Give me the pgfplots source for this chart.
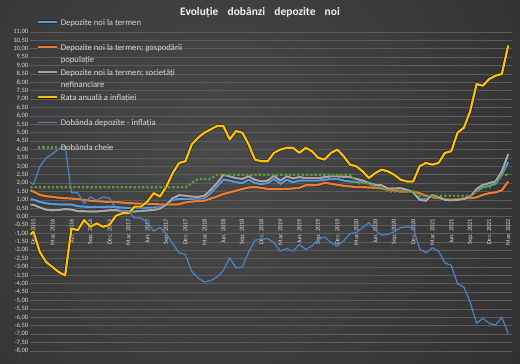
\documentclass[border=0pt]{standalone}
\usepackage{fontspec}
\setmainfont{Carlito}
\usepackage{pgfplots}
\pgfplotsset{compat=1.18}
\usepackage{pgfplotstable}
\definecolor{cblue}{HTML}{5B9BD5}
\definecolor{corange}{HTML}{ED7D31}
\definecolor{cgray}{HTML}{A5A5A5}
\definecolor{cyellow}{HTML}{FFC000}
\definecolor{cdiff}{HTML}{4A86C8}
\definecolor{cgreen}{HTML}{5E9A3A}
\definecolor{gridc}{HTML}{5C5C5C}
\definecolor{txt}{HTML}{D9D9D9}
\definecolor{bgin}{HTML}{4A4A4A}
\definecolor{bgout}{HTML}{1E1E1E}

\pgfplotstableread{
x dep hh nfc infl diff key
-0.5 1.03 1.57 0.72 -1.05 2.05 1.75
0 1.02 1.50 0.71 -0.90 1.92 1.75
1 0.88 1.30 0.55 -2.10 2.98 1.75
2 0.80 1.22 0.42 -2.70 3.50 1.75
3 0.75 1.18 0.38 -3.00 3.75 1.75
4 0.73 1.13 0.40 -3.30 4.03 1.75
5 0.72 1.10 0.45 -3.50 4.22 1.75
6 0.73 1.08 0.42 -0.70 1.43 1.75
7 0.62 1.05 0.33 -0.80 1.42 1.75
8 0.60 1.00 0.32 -0.20 0.80 1.75
9 0.58 0.95 0.31 -0.60 1.18 1.75
10 0.57 0.92 0.31 -0.40 0.97 1.75
11 0.58 0.90 0.34 -0.60 1.18 1.75
12 0.60 0.88 0.38 -0.50 1.10 1.75
13 0.57 0.87 0.38 0.05 0.52 1.75
14 0.54 0.84 0.34 0.20 0.34 1.75
15 0.52 0.80 0.31 0.20 0.32 1.75
16 0.52 0.79 0.31 0.60 -0.08 1.75
17 0.52 0.77 0.34 0.60 -0.08 1.75
18 0.53 0.76 0.37 0.90 -0.37 1.75
19 0.54 0.75 0.40 1.40 -0.86 1.75
20 0.56 0.73 0.48 1.20 -0.64 1.75
21 0.75 0.72 0.72 1.80 -1.05 1.75
22 1.00 0.72 1.10 2.60 -1.60 1.75
23 1.05 0.74 1.28 3.20 -2.15 1.75
24 1.05 0.85 1.25 3.30 -2.25 1.75
25 1.05 0.90 1.20 4.30 -3.25 2.00
26 1.05 0.93 1.18 4.70 -3.65 2.25
27 1.10 0.95 1.25 5.00 -3.90 2.25
28 1.40 1.08 1.60 5.20 -3.80 2.25
29 1.80 1.20 2.00 5.40 -3.60 2.50
30 2.20 1.35 2.50 5.40 -3.20 2.50
31 2.15 1.45 2.40 4.60 -2.45 2.50
32 2.05 1.55 2.30 5.10 -3.05 2.50
33 2.00 1.65 2.25 5.00 -3.00 2.50
34 2.20 1.74 2.40 4.30 -2.10 2.50
35 2.00 1.76 2.20 3.40 -1.40 2.50
36 1.95 1.72 2.10 3.30 -1.35 2.50
37 2.00 1.65 2.15 3.30 -1.30 2.50
38 2.25 1.65 2.44 3.80 -1.55 2.50
39 1.95 1.65 2.15 4.00 -2.05 2.50
40 2.20 1.66 2.40 4.10 -1.90 2.50
41 2.05 1.68 2.28 4.10 -2.05 2.50
42 2.15 1.72 2.36 3.80 -1.65 2.50
43 2.15 1.87 2.30 4.10 -1.95 2.50
44 2.15 1.87 2.30 3.90 -1.75 2.50
45 2.15 1.90 2.30 3.50 -1.35 2.50
46 2.20 2.02 2.35 3.40 -1.20 2.50
47 2.25 1.96 2.40 3.80 -1.55 2.50
48 2.25 1.90 2.40 4.00 -1.75 2.50
49 2.15 1.84 2.38 3.60 -1.45 2.50
50 2.10 1.80 2.36 3.10 -1.00 2.50
51 2.05 1.77 2.25 3.00 -0.95 2.00
52 2.05 1.76 2.15 2.70 -0.65 2.00
53 1.95 1.74 2.00 2.30 -0.35 2.00
54 1.80 1.72 1.90 2.60 -0.80 1.75
55 1.70 1.68 1.87 2.80 -1.10 1.75
56 1.65 1.60 1.68 2.70 -1.05 1.50
57 1.60 1.55 1.68 2.50 -0.90 1.50
58 1.55 1.50 1.70 2.20 -0.65 1.50
59 1.50 1.50 1.60 2.10 -0.60 1.50
60 1.45 1.50 1.45 2.10 -0.65 1.50
61 1.07 1.40 1.00 3.00 -1.93 1.25
62 1.05 1.25 0.95 3.20 -2.15 1.25
63 1.25 1.15 1.30 3.10 -1.85 1.25
64 1.15 1.10 1.15 3.20 -2.05 1.25
65 1.05 1.05 1.00 3.80 -2.75 1.25
66 1.00 1.02 0.97 3.90 -2.90 1.25
67 1.00 1.05 1.00 5.00 -4.00 1.25
68 1.10 1.08 1.05 5.30 -4.20 1.25
69 1.20 1.10 1.20 6.30 -5.10 1.25
70 1.55 1.15 1.65 7.90 -6.35 1.50
71 1.75 1.30 1.90 7.80 -6.05 1.75
72 1.85 1.40 2.00 8.20 -6.35 1.75
73 1.95 1.45 2.10 8.40 -6.45 2.00
74 2.50 1.57 2.70 8.50 -6.00 2.50
75 3.25 2.10 3.73 10.20 -6.95 2.50
}\data

\newcommand{\lent}[1]{\raisebox{0pt}[\height][0pt]{\begin{tabular}[t]{@{}l@{}}#1\end{tabular}}}

\begin{document}
\begin{tikzpicture}
\useasboundingbox (0,0) rectangle (520bp,364bp);
\begin{scope}
\clip (0,0) rectangle (520bp,364bp);
\shade[inner color=bgin, outer color=bgout] (215bp,205bp) circle (640bp);
\end{scope}
\node[text=white!95!black, font=\fontsize{11.5}{13}\selectfont\bfseries] at (260bp,351bp) {Evoluție\hspace{0.8em}dobânzi\hspace{0.8em}depozite\hspace{0.8em}noi};
\begin{axis}[
  at={(30bp,13bp)}, anchor=south west,
  scale only axis, width=482bp, height=319bp,
  xmin=-0.55, xmax=75.6, ymin=-8, ymax=11,
  axis x line*=middle, axis y line*=left,
  x axis line style={draw=gridc, line width=0.7bp, -},
  y axis line style={draw=none},
  ytick={-8,-7.5,...,11},
  ymajorgrids, grid style={draw=gridc, line width=0.7bp},
  ytick style={draw=none}, xtick style={draw=none},
  yticklabel style={font=\fontsize{6.6}{7}\selectfont, text=txt, inner sep=1.5bp},
  /pgf/number format/.cd, fixed, fixed zerofill, precision=2, use comma, assume math mode=true,
  /pgfplots/.cd,
  xtick={0,3,...,75},
  xticklabels={Dec. 2015, Mar. 2016, Jun. 2016, Sep. 2016, Dec. 2016, Mar. 2017, Jun. 2017, Sep. 2017, Dec. 2017, Mar. 2018, Jun. 2018, Sep. 2018, Dec. 2018, Mar. 2019, Jun. 2019, Sep. 2019, Dec. 2019, Mar. 2020, Jun. 2020, Sep. 2020, Dec. 2020, Mar. 2021, Jun. 2021, Sep. 2021, Dec. 2021, Mar. 2022},
  xticklabel style={rotate=90, anchor=east, font=\fontsize{6.3}{7}\selectfont, text=txt, inner sep=2.2bp},
  legend cell align=left,
  legend image code/.code={\draw[#1] (0bp,0bp) -- (19bp,0bp);},
  legend style={at={(axis description cs:0,1)}, anchor=north west, xshift=6bp, yshift=15bp,
    draw=none, fill=none, inner sep=0pt, row sep=15.2bp, column sep=2bp,
    font=\fontsize{8.7}{12}\selectfont, text=txt, nodes={inner sep=0pt}},
]
\addplot[cblue, line width=2.2bp, line join=round, preaction={draw=black, opacity=0.35, line width=3.4bp}] table[x=x,y=dep]{\data};
\addlegendentry{\lent{Depozite noi la termen}}
\addplot[corange, line width=2.2bp, line join=round, preaction={draw=black, opacity=0.35, line width=3.4bp}] table[x=x,y=hh]{\data};
\addlegendentry{\lent{Depozite noi la termen;\ gospodării\\populație}}
\addplot[cgray, line width=2.2bp, line join=round, preaction={draw=black, opacity=0.35, line width=3.4bp}] table[x=x,y=nfc]{\data};
\addlegendentry{\lent{Depozite noi la termen;\ societăți\\nefinanciare}}
\addplot[cyellow, line width=2.2bp, line join=round, preaction={draw=black, opacity=0.5, line width=3.6bp}] table[x=x,y=infl]{\data};
\addlegendentry{\lent{Rata anuală a inflației}}
\addplot[cdiff, line width=1.2bp, line join=round] table[x=x,y=diff]{\data};
\addlegendentry{\lent{Dobânda depozite - inflația}}
\addplot[cgreen, line width=2.3bp, dash pattern=on 2.3bp off 2bp] table[x=x,y=key]{\data};
\addlegendentry{\lent{Dobânda cheie}}
\end{axis}
\end{tikzpicture}
\end{document}
